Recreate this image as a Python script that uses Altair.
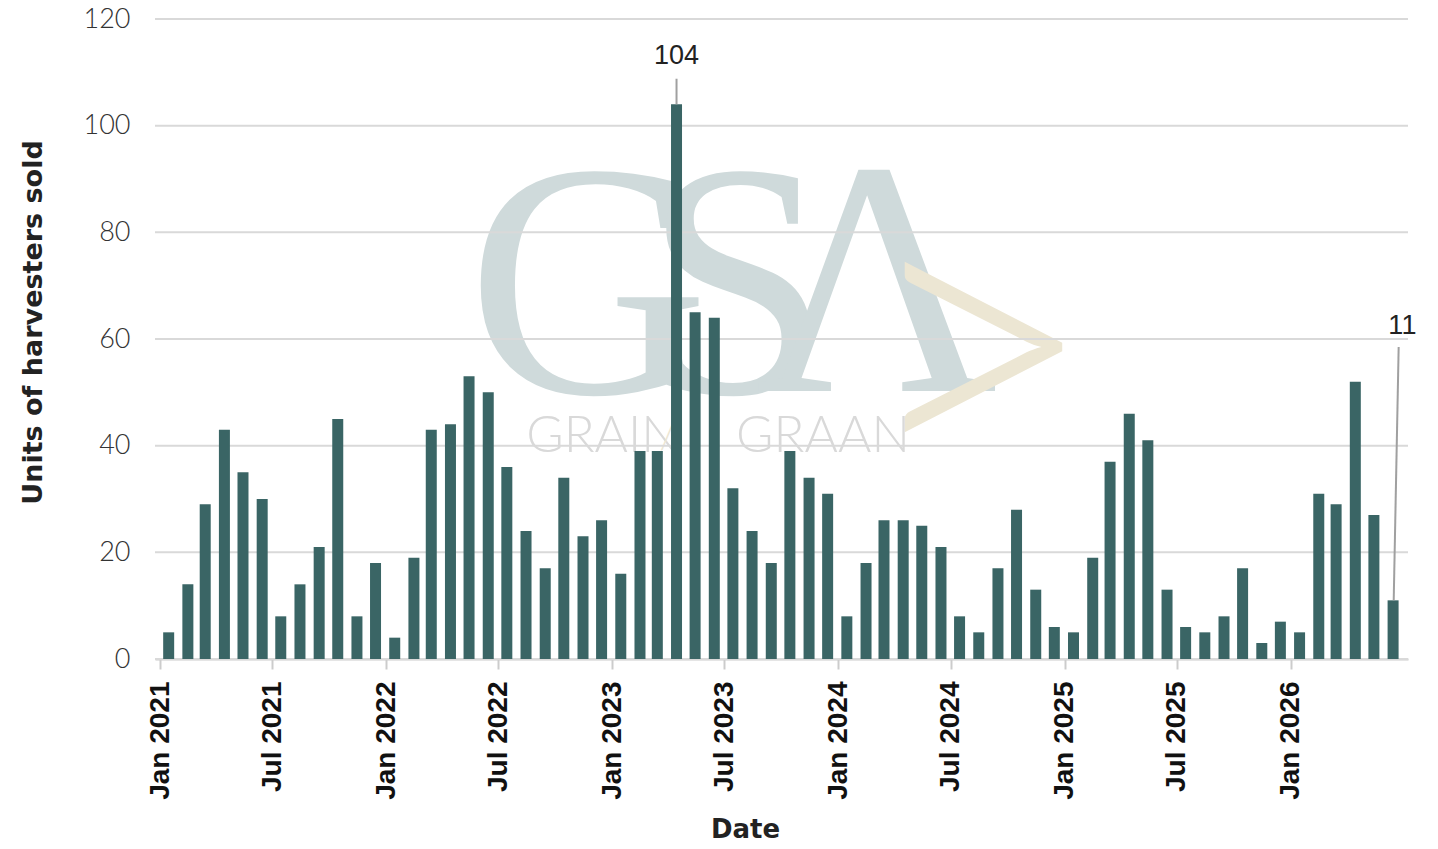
import altair as alt
import pandas as pd

# ---- data ----
years = [2021, 2022, 2023, 2024, 2025, 2026]
month_dates = [f"{y}-{m:02d}-15T00:00:00" for y in years for m in range(1, 13)][:66]
units = [5, 14, 29, 43, 35, 30, 8, 14, 21, 45, 8, 18,
         4, 19, 43, 44, 53, 50, 36, 24, 17, 34, 23, 26,
         16, 39, 39, 104, 65, 64, 32, 24, 18, 39, 34, 31,
         8, 18, 26, 26, 25, 21, 8, 5, 17, 28, 13, 6,
         5, 19, 37, 46, 41, 13, 6, 5, 8, 17, 3, 7,
         5, 31, 29, 52, 27, 11]
y_ticks = [0, 20, 40, 60, 80, 100, 120]

# annotation callouts (label position and leader line ends, in data units)
ann_text = ["104", "11"]
ann_label_date = ["2023-04-15T00:00:00", "2026-06-30T00:00:00"]
ann_label_val = [113, 62.4]
ann_line_top_date = ["2023-04-15T00:00:00", "2026-06-24T00:00:00"]
ann_line_top_val = [108.8, 58.5]
ann_line_bot_date = ["2023-04-15T00:00:00", "2026-06-16T00:00:00"]
ann_line_bot_val = [104, 11]

df = pd.DataFrame({"date": month_dates, "units": units})
grid_df = pd.DataFrame({"v": y_ticks})
ann_df = pd.DataFrame({
    "text": ann_text, "ld": ann_label_date, "lv": ann_label_val,
    "td": ann_line_top_date, "tv": ann_line_top_val,
    "bd": ann_line_bot_date, "bv": ann_line_bot_val,
})

tick_vals = [alt.DateTime(year=y, month=m, date=1) for y in years for m in (1, 7)][:11]
x_scale = alt.Scale(domain=[alt.DateTime(year=2021, month=1, date=1),
                            alt.DateTime(year=2026, month=7, date=1)])
y_scale = alt.Scale(domain=[0, 120])

x_axis = alt.Axis(values=tick_vals, format="%b %Y", labelAngle=270,
                  labelFont="Liberation Sans", labelFontWeight="bold",
                  labelFontSize=28, labelColor="#111111", labelPadding=12,
                  domainColor="#cccccc", domainWidth=2, tickColor="#cccccc",
                  tickWidth=2, tickSize=10, grid=False,
                  title="Date", titleFont="DejaVu Sans", titleFontSize=26,
                  titleFontWeight="bold", titleColor="#222222",
                  titleX=590, titleY=170, titleBaseline="middle")
y_axis = alt.Axis(values=y_ticks, grid=False, domain=False, ticks=False,
                  labelFont="Lato", labelFontSize=27, labelFontWeight=300,
                  labelColor="#333333", labelPadding=25,
                  title="Units of harvesters sold", titleFont="DejaVu Sans",
                  titleFontSize=27, titleFontWeight="bold", titleColor="#222222",
                  titleX=-122, titleY=303, titleAngle=270, titleAlign="center",
                  titleBaseline="middle")

# watermark (GSA logo approximation), drawn as decoration behind the data
one = pd.DataFrame({"k": [0]})


def wm(txt, px, py, size, font, color, weight="normal"):
    return alt.Chart(one).mark_text(
        text=txt, font=font, fontSize=size, color=color, fontWeight=weight,
        baseline="alphabetic", align="center"
    ).encode(x=alt.value(px), y=alt.value(py))


logo_col = "#cfdadb"
beige = "#ece6d3"
wm_g = wm("G", 433, 374, 335, "Liberation Serif", logo_col)
wm_s = wm("S", 582, 374, 335, "Liberation Serif", logo_col)
wm_a = wm("Λ", 722, 372, 335, "Liberation Serif", logo_col)
wm_chev = wm(">", 822, 469, 420, "Lato", beige, 300)
wm_sub1 = wm("GRAIN", 448, 433, 51, "Lato", "#d9d9d9", 300)
wm_slash = wm("/", 513, 430, 40, "Lato", beige, 300)
wm_sub2 = wm("GRAAN", 668, 433, 51, "Lato", "#d9d9d9", 300)

grid = alt.Chart(grid_df).mark_rule(color="#d9d9d9", strokeWidth=2).encode(
    y=alt.Y("v:Q", scale=y_scale, axis=y_axis)
)

bars = alt.Chart(df).mark_bar(width=11, color="#3a6565").encode(
    x=alt.X("date:T", scale=x_scale, axis=x_axis),
    y=alt.Y("units:Q", scale=y_scale, axis=y_axis),
)

leaders = alt.Chart(ann_df).mark_rule(color="#a0a0a0", strokeWidth=2).encode(
    x=alt.X("td:T", scale=x_scale),
    y=alt.Y("tv:Q", scale=y_scale),
    x2="bd:T",
    y2="bv:Q",
)
labels = alt.Chart(ann_df).mark_text(
    font="Liberation Sans", fontSize=27, color="#222222", baseline="middle",
    align="center"
).encode(
    x=alt.X("ld:T", scale=x_scale),
    y=alt.Y("lv:Q", scale=y_scale),
    text="text:N",
)

chart = alt.layer(wm_g, wm_s, wm_a, wm_chev, wm_sub1, wm_slash, wm_sub2,
                  grid, bars, leaders, labels).properties(
    width=1253, height=640,
    autosize=alt.AutoSizeParams(type="none"),
    padding={"left": 147, "top": 11, "right": 22, "bottom": 180},
    background="white",
).configure_view(stroke=None)

chart.save("out.html", embed_options={"renderer": "svg", "actions": False})
